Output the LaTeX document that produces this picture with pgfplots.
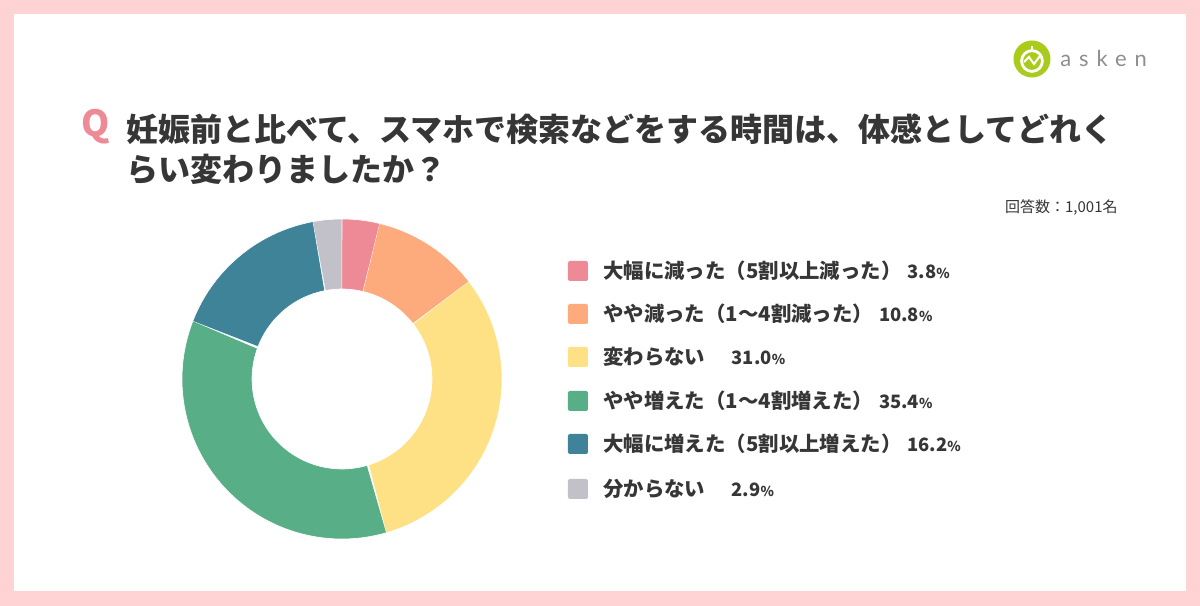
\documentclass[border=0pt]{standalone}
\usepackage{pgfplots}
\pgfplotsset{compat=1.18}
\usepackage{fontspec}
\setmainfont{Noto Sans CJK JP}
\newfontfamily\logofont{Lato}[LetterSpace=36]
\definecolor{bgpink}{HTML}{FFD3D3}
\definecolor{cPink}{HTML}{EE8A96}
\definecolor{cOrange}{HTML}{FDAA7C}
\definecolor{cYellow}{HTML}{FFE185}
\definecolor{cGreen}{HTML}{58AE86}
\definecolor{cTeal}{HTML}{3F8399}
\definecolor{cGray}{HTML}{C2C0C8}
\definecolor{txt}{HTML}{363636}
\definecolor{logogreen}{HTML}{A8CB1C}
\definecolor{logogray}{HTML}{8E8E8E}
% slice: start (cumulative %), value (%), colour; total of the values = 100.1
\newcommand{\donutslice}[3]{%
  \addplot[fill=#3, draw=white, line width=0.3bp, domain=0:2, samples=181, variable=\t]
  ({((\t<=1)?1:0.5625)*cos(90-(360/100.1)*((\t<=1)?(#1+#2*\t):(#1+#2-#2*(\t-1))))},
   {((\t<=1)?1:0.5625)*sin(90-(360/100.1)*((\t<=1)?(#1+#2*\t):(#1+#2-#2*(\t-1))))});
}
\begin{document}
\begin{tikzpicture}
\fill[bgpink] (0,0) rectangle (600bp,303bp);
\fill[white] (7bp,7.5bp) rectangle (593bp,296bp);
\begin{axis}[at={(171bp,113.5bp)}, anchor=center, width=160bp, height=160bp,
  scale only axis, hide axis, xmin=-1, xmax=1, ymin=-1, ymax=1, clip=false]
\donutslice{0}{3.8}{cPink}
\donutslice{3.8}{10.8}{cOrange}
\donutslice{14.6}{31.0}{cYellow}
\donutslice{45.6}{35.4}{cGreen}
\donutslice{81.0}{16.2}{cTeal}
\donutslice{97.2}{2.9}{cGray}
\end{axis}
\begin{scope}[x=0.5bp, y=-0.5bp, shift={(0bp,303bp)}]
% logo
\fill[logogreen] (1032,59) circle (9.25bp);
\draw[white, line width=1.4bp] (1032,61) circle (5.2bp);
\draw[white, line width=1.2bp] (1032,50) -- (1032,46);
\draw[white, line width=1bp] (1024,62) -- (1029,57) -- (1034,64) -- (1040,56);
\node[anchor=west, inner sep=0, text=logogray, font=\logofont\fontsize{11bp}{11bp}\selectfont] at (1060,58) {asken};
% title
\node[anchor=center, inner sep=0, text=cPink, font=\fontsize{18bp}{18bp}\selectfont\bfseries] at (96,127) {Q};
\node[anchor=west, inner sep=0, text=txt, font=\fontsize{16bp}{16bp}\selectfont\bfseries] at (126,129) {妊娠前と比べて、スマホで検索などをする時間は、体感としてどれく};
\node[anchor=west, inner sep=0, text=txt, font=\fontsize{16bp}{16bp}\selectfont\bfseries] at (126,169) {らい変わりましたか？};
\node[anchor=east, inner sep=0, text=txt, font=\fontsize{7.5bp}{7.5bp}\selectfont] at (1118,208) {回答数：1,001名};
% legend
\foreach \y/\c/\lab/\num in {271/cPink/大幅に減った（5割以上減った）/3.8,
  314/cOrange/やや減った（1〜4割減った）/10.8,
  357/cYellow/変わらない　/31.0,
  401/cGreen/やや増えた（1〜4割増えた）/35.4,
  444/cTeal/大幅に増えた（5割以上増えた）/16.2,
  489/cGray/分からない　/2.9}{
  \fill[\c, rounded corners=1bp] (568,\y-10) rectangle (588,\y+10);
  \node[anchor=west, inner sep=0, text=txt, font=\fontsize{10.2bp}{10.2bp}\selectfont\bfseries] at (603,\y)
    {\lab\hspace{3bp}{\fontsize{9.2bp}{9.2bp}\selectfont\num}{\fontsize{6.8bp}{6.8bp}\selectfont\%}};
}
\end{scope}
\end{tikzpicture}
\end{document}
